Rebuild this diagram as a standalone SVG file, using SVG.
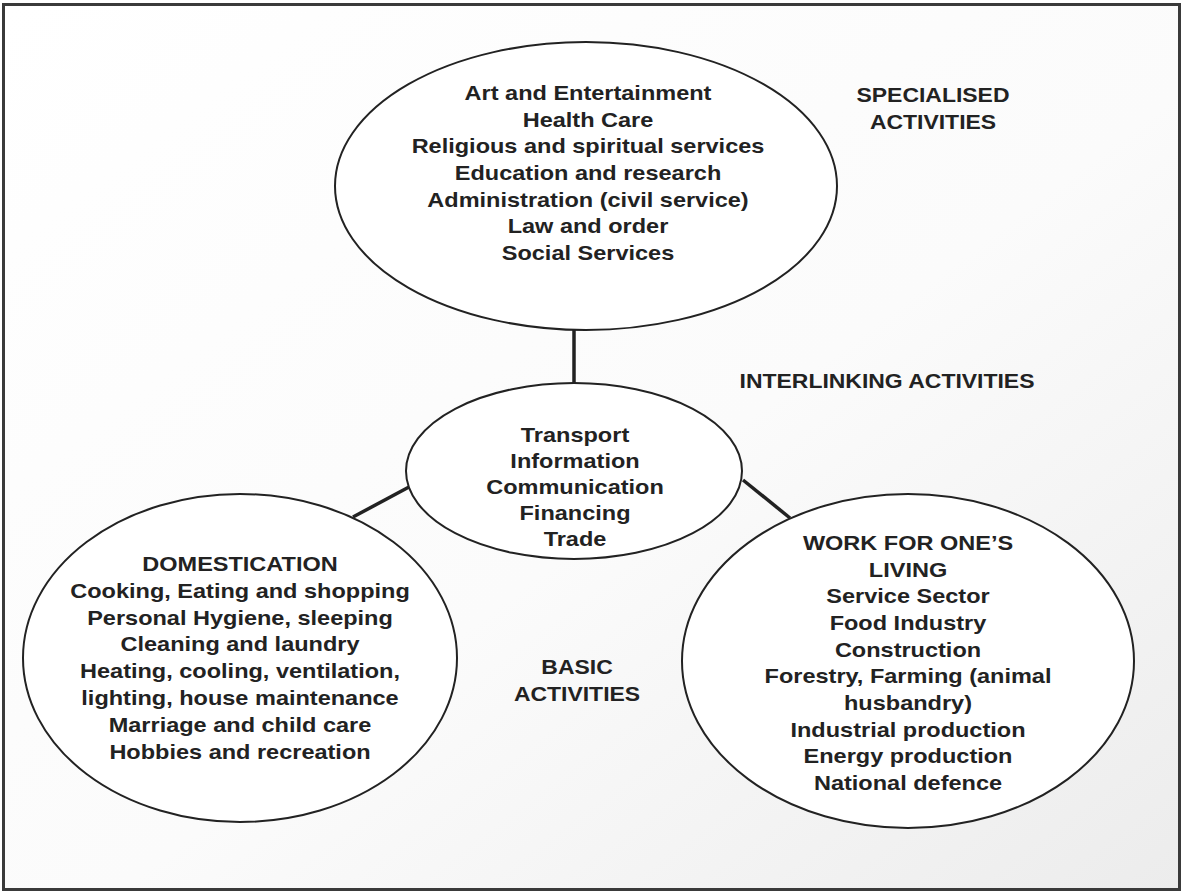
<svg xmlns="http://www.w3.org/2000/svg" width="1182" height="894" viewBox="0 0 1182 894">
<defs>
<linearGradient id="bg" x1="0" y1="0" x2="1" y2="1">
<stop offset="0" stop-color="#ffffff"/>
<stop offset="0.55" stop-color="#fbfbfb"/>
<stop offset="1" stop-color="#ececec"/>
</linearGradient>
<style>
.node{fill:#ffffff;stroke:#222222;stroke-width:2}
.conn{stroke:#222222;stroke-width:3.5;fill:none}
.t{font-family:"Liberation Sans",Arial,sans-serif;font-weight:bold;font-size:21px;fill:#222222;text-anchor:middle}
.lab{font-family:"Liberation Sans",Arial,sans-serif;font-weight:bold;font-size:20.5px;fill:#222222;text-anchor:middle}
</style>
</defs>
<rect x="0" y="0" width="1182" height="894" fill="#ffffff"/>
<rect x="3.5" y="4.5" width="1176" height="885" fill="url(#bg)" stroke="#3a3a3a" stroke-width="3"/>
<g id="connectors">
<line class="conn" x1="574" y1="330" x2="574" y2="383"/>
<line class="conn" x1="353" y1="517" x2="409" y2="487"/>
<line class="conn" x1="743" y1="480" x2="790" y2="518"/>
</g>
<g id="specialised">
<ellipse class="node" cx="586" cy="186" rx="251" ry="144"/>
<g transform="translate(588,0) scale(1.12,1)">
<text class="t" x="0" y="100">Art and Entertainment</text>
<text class="t" x="0" y="127">Health Care</text>
<text class="t" x="0" y="153">Religious and spiritual services</text>
<text class="t" x="0" y="180">Education and research</text>
<text class="t" x="0" y="207">Administration (civil service)</text>
<text class="t" x="0" y="233">Law and order</text>
<text class="t" x="0" y="260">Social Services</text>
</g>
</g>
<g id="interlinking">
<ellipse class="node" cx="574" cy="471" rx="168" ry="88"/>
<g transform="translate(575,0) scale(1.12,1)">
<text class="t" x="0" y="442">Transport</text>
<text class="t" x="0" y="468">Information</text>
<text class="t" x="0" y="494">Communication</text>
<text class="t" x="0" y="520">Financing</text>
<text class="t" x="0" y="546">Trade</text>
</g>
</g>
<g id="domestication">
<ellipse class="node" cx="240" cy="658" rx="217" ry="164"/>
<g transform="translate(240,0) scale(1.12,1)">
<text class="t" x="0" y="571">DOMESTICATION</text>
<text class="t" x="0" y="598">Cooking, Eating and shopping</text>
<text class="t" x="0" y="625">Personal Hygiene, sleeping</text>
<text class="t" x="0" y="651">Cleaning and laundry</text>
<text class="t" x="0" y="678">Heating, cooling, ventilation,</text>
<text class="t" x="0" y="705">lighting, house maintenance</text>
<text class="t" x="0" y="732">Marriage and child care</text>
<text class="t" x="0" y="759">Hobbies and recreation</text>
</g>
</g>
<g id="work">
<ellipse class="node" cx="908" cy="661" rx="226" ry="167"/>
<g transform="translate(908,0) scale(1.12,1)">
<text class="t" x="0" y="550">WORK FOR ONE’S</text>
<text class="t" x="0" y="577">LIVING</text>
<text class="t" x="0" y="603">Service Sector</text>
<text class="t" x="0" y="630">Food Industry</text>
<text class="t" x="0" y="657">Construction</text>
<text class="t" x="0" y="683">Forestry, Farming (animal</text>
<text class="t" x="0" y="710">husbandry)</text>
<text class="t" x="0" y="737">Industrial production</text>
<text class="t" x="0" y="763">Energy production</text>
<text class="t" x="0" y="790">National defence</text>
</g>
</g>
<g id="labels">
<g transform="translate(933,0) scale(1.12,1)">
<text class="lab" x="0" y="102">SPECIALISED</text>
<text class="lab" x="0" y="129">ACTIVITIES</text>
</g>
<g transform="translate(887,0) scale(1.12,1)">
<text class="lab" x="0" y="388">INTERLINKING ACTIVITIES</text>
</g>
<g transform="translate(577,0) scale(1.12,1)">
<text class="lab" x="0" y="674">BASIC</text>
<text class="lab" x="0" y="701">ACTIVITIES</text>
</g>
</g>
</svg>
